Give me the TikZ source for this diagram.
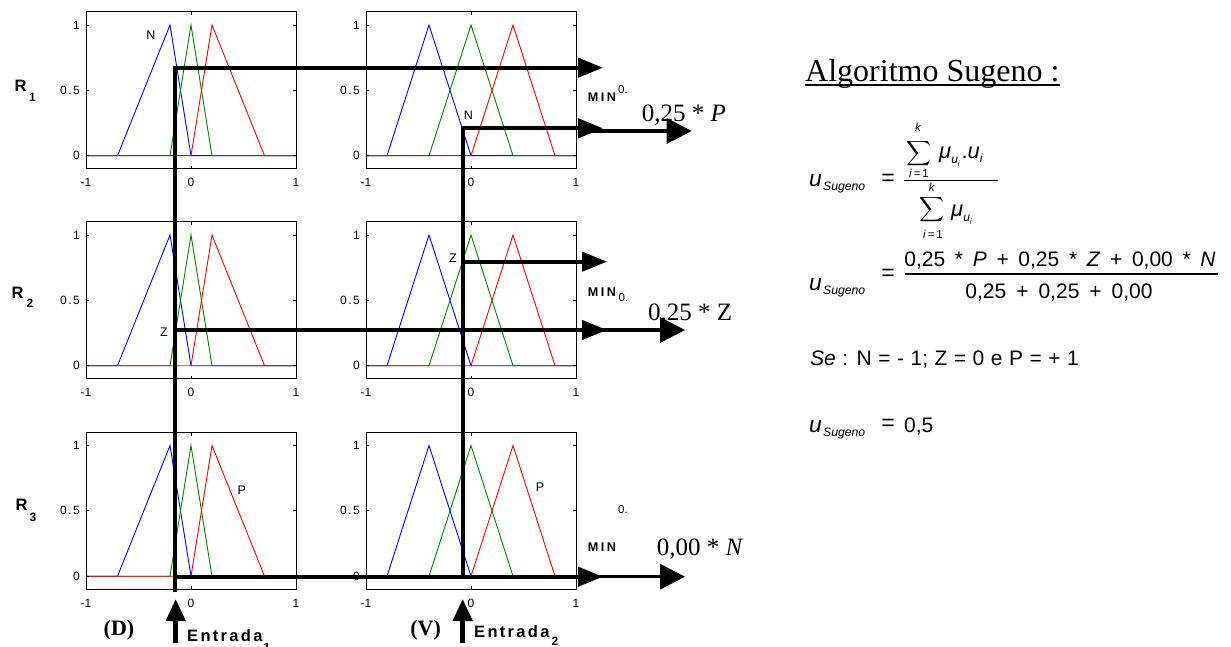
\documentclass[tikz,border=0pt]{standalone}
\usepackage{fontspec}
\usepackage{amsmath}
\usepackage{graphicx}
\setmainfont{Liberation Serif}
\setsansfont{Liberation Sans}
\newfontfamily\spc[LetterSpace=12]{Liberation Sans}
\newfontfamily\spce[LetterSpace=14]{Liberation Sans}
\newfontfamily\spcb[LetterSpace=20]{Liberation Sans}
\usetikzlibrary{arrows.meta}
\newcommand\vi[1]{\textsf{\itshape #1}}
\newcommand\mfplot[5]{%
\begin{scope}[shift={(#1,#2)},x=105pt,y=130.7pt]
\draw[mfN] (-1,0) -- (-#4,0) -- (-#3,1) -- (0,0) -- (1,0);
\draw[mfZ] (-1,0) -- (-#3,0) -- (0,1) -- (#3,0) -- (1,0);
\draw[mfP] (-1,0) -- (0,0) -- (#3,1) -- (#4,0) -- (1,0);
\draw[frm] (-1,-0.1) rectangle (1,1.1);
\foreach \yy/\lab [count=\k] in {0/0,0.5/0\kern1.5pt.\kern1.5pt5,1/1}{
  \draw[frm] (-1,\yy) -- ++(0.03,0) (1,\yy) -- ++(-0.03,0);
  \node[tk,anchor=east,xshift=-6pt] (#5y\k) at (-1,\yy) {\lab};
}
\foreach \xx/\lab [count=\k] in {-1/-1,0/0,1/1}{
  \draw[frm] (\xx,-0.1) -- ++(0,0.025) (\xx,1.1) -- ++(0,-0.025);
  \node[tk,yshift=-14pt] (#5x\k) at (\xx,-0.1) {\lab};
}
\end{scope}}
\begin{document}
\begin{tikzpicture}[x=1pt,y=-1pt,
 frm/.style={line width=0.9pt},
 mfN/.style={line width=0.9pt,blue},
 mfZ/.style={line width=0.9pt,green!50!black},
 mfP/.style={line width=0.9pt,red},
 tk/.style={inner sep=0pt,font=\fontsize{12}{13}\selectfont\sffamily},
 ml/.style={inner sep=0pt,font=\fontsize{12.5}{14}\selectfont\sffamily},
 rl/.style={inner sep=0pt,font=\fontsize{16.5}{18}\selectfont\spc\bfseries},
 rs/.style={inner sep=0pt,font=\fontsize{12}{13}\selectfont\spc\bfseries},
 minl/.style={inner sep=0pt,font=\fontsize{12.6}{14}\selectfont\spcb\bfseries},
 zero/.style={inner sep=0pt,font=\fontsize{11.5}{12}\selectfont\sffamily},
 outl/.style={inner sep=0pt,anchor=base west,font=\fontsize{25}{30}\selectfont},
 ent/.style={inner sep=0pt,anchor=west,font=\fontsize{16.5}{18}\selectfont\spce\bfseries},
 dv/.style={inner sep=0pt,font=\fontsize{22}{24}\selectfont\bfseries},
 eq/.style={inner sep=0pt,font=\fontsize{23}{26}\selectfont\sffamily},
 sub/.style={inner sep=0pt,anchor=base west,font=\fontsize{12.2}{14}\selectfont\sffamily\itshape},
 lim/.style={inner sep=0pt,font=\fontsize{11.5}{13}\selectfont\sffamily},
 sigma/.style={inner sep=0pt,font=\fontsize{19}{21}\selectfont},
 thk/.style={line width=4.3pt,line join=miter},
 minarr/.style={thk,-{Triangle[length=25pt,width=19pt]}},
 outarr/.style={line width=3.5pt,-{Triangle[length=25pt,width=25pt]}},
 inarr/.style={line width=4.5pt,-{Triangle[length=22pt,width=19pt]}},
 frac/.style={line width=1.3pt}]
\useasboundingbox (0,0) rectangle (1231,647);

% membership function plots
\mfplot{191}{155.7}{0.2}{0.7}{a}
\mfplot{471}{155.7}{0.4}{0.8}{b}
\mfplot{191}{365.7}{0.2}{0.7}{c}
\mfplot{471}{365.7}{0.4}{0.8}{d}
\mfplot{191}{576.2}{0.2}{0.7}{e}
\mfplot{471}{576.2}{0.4}{0.8}{f}

% set labels in plots
\node[ml] (lN1) at (151,35) {N};
\node[ml] (lN2) at (468.5,115) {N};
\node[ml] (lZ1) at (164,331.7) {Z};
\node[ml] (lZ2) at (453,258) {Z};
\node[ml] (lP1) at (241.7,490) {P};
\node[ml] (lP2) at (540,486.7) {P};

% rule labels
\node[rl] (R1) at (20.5,86) {R};
\node[rs] (R1s) at (32.5,97) {1};
\node[rl] (R2) at (17.5,293) {R};
\node[rs] (R2s) at (30,303) {2};
\node[rl] (R3) at (21.5,505) {R};
\node[rs] (R3s) at (33,517) {3};

% MIN labels
\node[minl] (min1) at (602,96.7) {MIN};
\node[zero] (z1) at (623,90) {0.};
\node[minl] (min2) at (602,291.7) {MIN};
\node[zero] (z2) at (623.5,298) {0.};
\node[zero] (z3) at (623,510) {0.};
\node[minl] (min3) at (602,546.7) {MIN};

% coordinates of the inference lines
\coordinate (i1b) at (175,592);
\coordinate (i1c) at (175,67.7);
\coordinate (m1a) at (603,67.7);
\coordinate (i1r2) at (175,330);
\coordinate (m2b) at (607,330);
\coordinate (i1r3) at (175,576.7);
\coordinate (m3) at (603,576.7);
\coordinate (i2b) at (462.7,578);
\coordinate (i2c) at (462.7,128.3);
\coordinate (m1b) at (603,128.3);
\coordinate (i2r2) at (462.7,261.7);
\coordinate (m2a) at (607,261.7);

\draw[minarr] (i1b) -- (i1c) -- (m1a);
\draw[minarr] (i2b) -- (i2c) -- (m1b);
\draw[minarr] (i2r2) -- (m2a);
\draw[minarr] (i1r2) -- (m2b);
\draw[minarr] (i1r3) -- (m3);

% output arrows
\coordinate (o1s) at (580,131);
\coordinate (o1e) at (691.7,131);
\coordinate (o2s) at (580,330);
\coordinate (o2e) at (685,330);
\coordinate (o3s) at (580,576.7);
\coordinate (o3e) at (685,576.7);
\draw[outarr] (o1s) -- (o1e);
\draw[outarr] (o2s) -- (o2e);
\draw[outarr] (o3s) -- (o3e);

\node[outl] (out1) at (641.7,121.7) {0,25 * \textit{P}};
\node[outl] (out2) at (648,320) {0,25 * Z};
\node[outl] (out3) at (656.7,555) {0,00 * \textit{N}};

% inputs
\coordinate (e1s) at (175.7,643);
\coordinate (e1t) at (175.7,599);
\coordinate (e2s) at (462.7,643);
\coordinate (e2t) at (462.7,599);
\draw[inarr] (e1s) -- (e1t);
\draw[inarr] (e2s) -- (e2t);
\node[ent] (ent1) at (187,636) {Entrada};
\node[rs] (ent1s) at (267,647) {1};
\node[ent] (ent2) at (474,632) {Entrada};
\node[rs] (ent2s) at (555,641) {2};
\node[dv] (D) at (119,630) {(D)};
\node[dv] (V) at (425.6,630) {(V)};

% right side: Sugeno algorithm
\node[inner sep=0pt,anchor=base west,font=\fontsize{32}{36}\selectfont] (title) at (805,81.7) {Algoritmo Sugeno :};
\draw[line width=1.4pt] ([yshift=-3.5pt]title.base west) -- ([yshift=-3.5pt]title.base east);

% formula 1
\node[eq,anchor=base west] (u1) at (809,187) {\itshape u};
\node[sub] (u1s) at (823,190.7) {Sugeno};
\node[eq] (eq1) at (888,180) {=};
\coordinate (f1a) at (904,180.3);
\coordinate (f1b) at (998,180.3);
\draw[frac] (f1a) -- (f1b);
\node[sigma] (s1) at (919,154) {$\displaystyle\sum$};
\node[lim] (k1) at (918,127.5) {\itshape k};
\node[lim] (i1) at (919,173) {\textit{i}\,=\,1};
\node[inner sep=0pt,anchor=base west] (mu1) at (939,159)
  {{\fontsize{22}{26}\selectfont\vi{μ}}\raisebox{-5pt}{\fontsize{12}{14}\selectfont\vi{u}\raisebox{-2.5pt}{\fontsize{8}{9}\selectfont\vi{i}}}\,{\fontsize{22}{26}\selectfont\sffamily.\vi{u}}\raisebox{-4pt}{\fontsize{12}{14}\selectfont\vi{i}}};
\node[sigma] (s2) at (932,210) {$\displaystyle\sum$};
\node[lim] (k2) at (931.7,187.5) {\itshape k};
\node[lim] (i2) at (933,234) {\textit{i}\,=\,1};
\node[inner sep=0pt,anchor=base west] (mu2) at (951,217)
  {{\fontsize{22}{26}\selectfont\vi{μ}}\raisebox{-5pt}{\fontsize{12}{14}\selectfont\vi{u}\raisebox{-2.5pt}{\fontsize{8}{9}\selectfont\vi{i}}}};

% formula 2
\node[eq,anchor=base west] (u2) at (809,290) {\itshape u};
\node[sub] (u2s) at (823,294) {Sugeno};
\node[eq] (eq2) at (888,275) {=};
\coordinate (f2a) at (905,274);
\coordinate (f2b) at (1218,274);
\draw[frac] (f2a) -- (f2b);
\node[inner sep=0pt,anchor=base,font=\fontsize{21}{25}\selectfont\sffamily] (num2) at (1060,266.7)
  {\spaceskip=9.7pt\relax 0,25 * \textit{P} + 0,25 * \textit{Z} + 0,00 * \textit{N}};
\node[inner sep=0pt,anchor=base,font=\fontsize{21}{25}\selectfont\sffamily] (den2) at (1059,298.3)
  {\spaceskip=10pt\relax 0,25 + 0,25 + 0,00};

% condition
\node[inner sep=0pt,anchor=base west,font=\fontsize{21}{25}\selectfont\sffamily] (se) at (810,365)
  {\spaceskip=6.5pt\relax\textit{Se} : N = - 1; Z = 0 e P = + 1};

% result
\node[eq,anchor=base west] (u3) at (809,432.5) {\itshape u};
\node[sub] (u3s) at (823,436.5) {Sugeno};
\node[eq] (eq3) at (888,425) {=};
\node[inner sep=0pt,anchor=base west,font=\fontsize{21}{25}\selectfont\sffamily] (res) at (904,432.5) {0,5};
\end{tikzpicture}
\end{document}
